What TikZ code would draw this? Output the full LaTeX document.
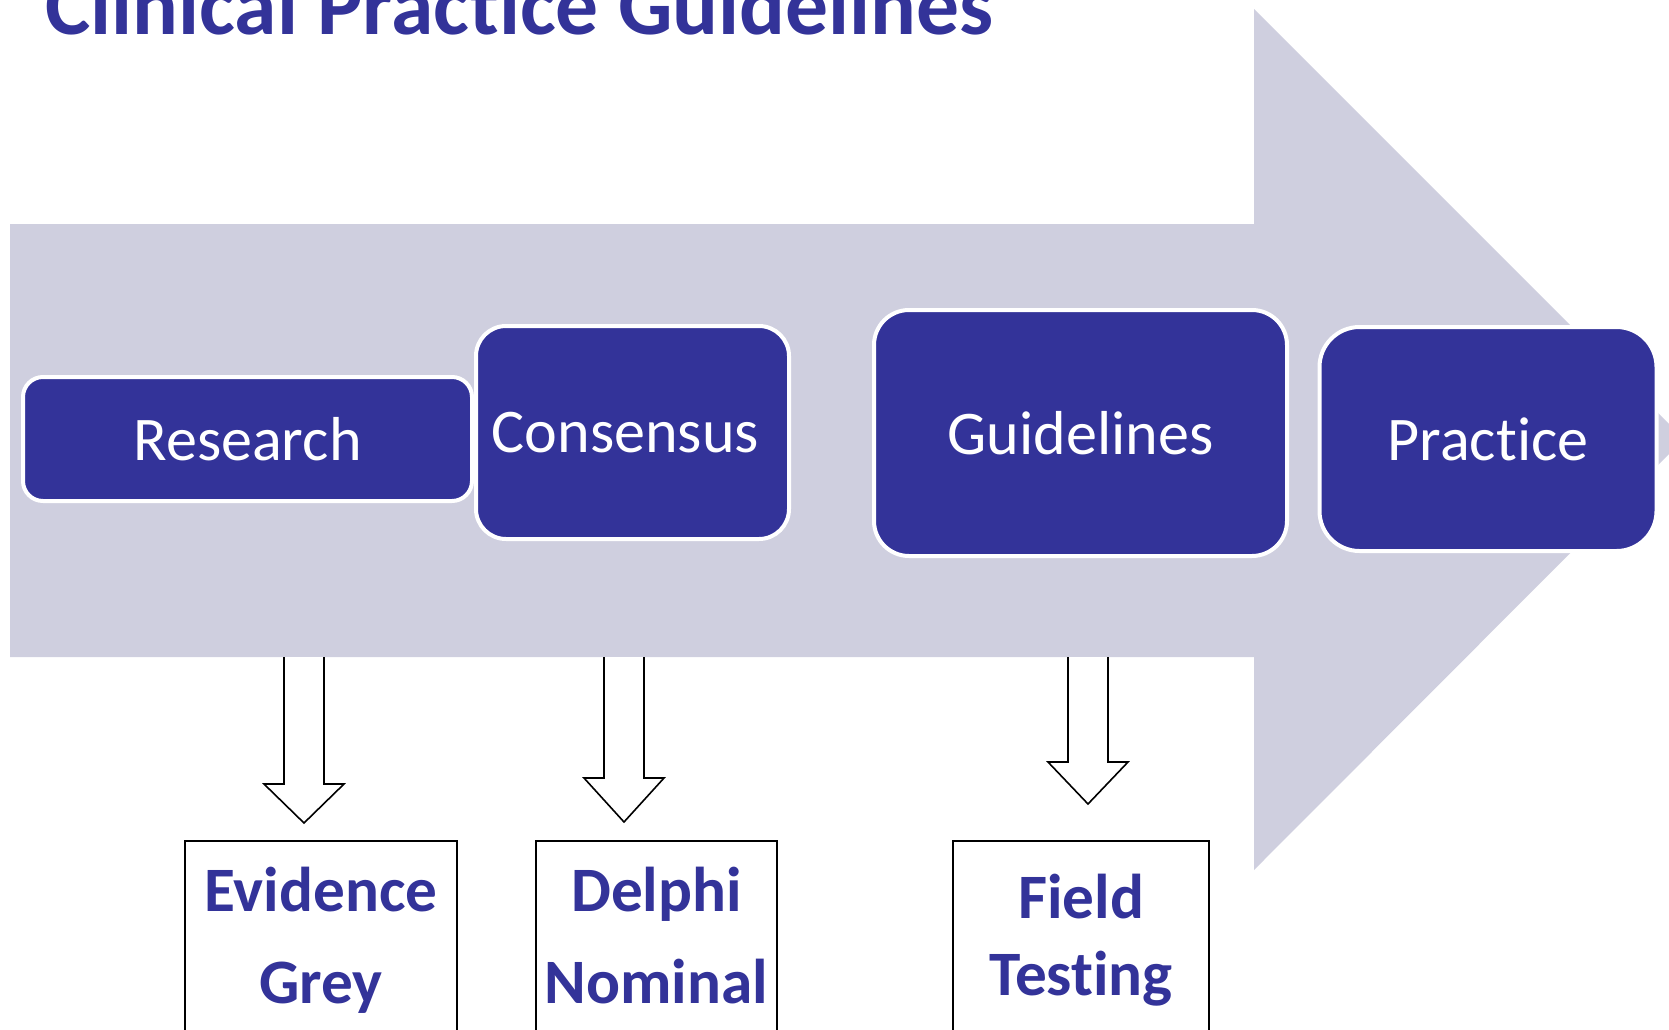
\documentclass[tikz,border=0pt]{standalone}
\usepackage{fontspec}
\setmainfont[Ligatures=NoCommon]{Carlito}
\definecolor{navy}{RGB}{51,51,153}
\definecolor{band}{RGB}{207,207,223}
% keeps "t" and "i" as separate glyphs
\newcommand{\ti}{t\kern0pt i}
\begin{document}
\begin{tikzpicture}[x=0.03cm,y=-0.03cm,
  stage/.style={draw=white,line width=4*0.03cm,fill=navy,text=white,inner sep=0pt,
    font=\fontsize{53pt}{60pt}\selectfont},
  outbox/.style={draw=black,line width=2*0.03cm,fill=white,inner sep=0pt},
  outtext/.style={text=navy,inner sep=0pt,anchor=base,font=\bfseries\fontsize{54pt}{60pt}\selectfont},
  blockarrow/.style={draw=black,line width=1.6*0.03cm,fill=white,line join=miter}]
\useasboundingbox (0,0) rectangle (1669,1029);
\clip (0,0) rectangle (1669,1029);

% title
\node[anchor=base west,inner sep=0pt,text=navy,font=\bfseries\fontsize{73pt}{80pt}\selectfont]
  (title) at (45,34) {Clinical Prac\ti ce Guidelines};

% broad process arrow
\fill[band] (10,224) -- (1254,224) -- (1254,9) -- (1684,439) -- (1254,870)
  -- (1254,657) -- (10,657) -- cycle;

% process stages
\node[stage,rounded corners=20*0.03cm,minimum width=449*0.03cm,minimum height=124*0.03cm]
  (research) at (247.5,439) {Research};
\node[stage,rounded corners=30*0.03cm,minimum width=313*0.03cm,minimum height=213*0.03cm]
  (consensus) at (632.5,432.5) {Consensus\kern0.42cm};
\node[stage,rounded corners=35*0.03cm,minimum width=413*0.03cm,minimum height=246*0.03cm]
  (guidelines) at (1080.5,433) {Guidelines};
\node[stage,rounded corners=40*0.03cm,minimum width=337*0.03cm,minimum height=224*0.03cm]
  (practice) at (1488,439) {Prac\ti ce};

% method boxes (running past the lower edge)
\node[outbox,minimum width=272*0.03cm,minimum height=200*0.03cm,anchor=north west]
  (evidence) at (184,840) {};
\node[outbox,minimum width=241*0.03cm,minimum height=200*0.03cm,anchor=north west]
  (delphi) at (535,840) {};
\node[outbox,minimum width=256*0.03cm,minimum height=200*0.03cm,anchor=north west]
  (field) at (952,840) {};

\node[outtext] (ev1) at (evidence.north |- 0,911) {Evidence};
\node[outtext] (ev2) at (evidence.north |- 0,1003) {Grey};
\node[outtext] (de1) at (delphi.north |- 0,911) {Delphi};
\node[outtext] (de2) at (delphi.north |- 0,1003) {Nominal};
\node[outtext] (fi1) at (field.north |- 0,918) {Field};
\node[outtext] (fi2) at (field.north |- 0,995) {Tes\ti ng};

% hollow block arrows from the process arrow down to the method boxes
\newcommand{\downblock}[4]{% centre x, head y, tip y, name
  \coordinate (#4) at (#1,#3);
  \draw[blockarrow] (#1-20,657) -- (#1-20,#2) -- (#1-40,#2) -- (#4)
    -- (#1+40,#2) -- (#1+20,#2) -- (#1+20,657);}
\downblock{304}{784}{823}{tipA}
\downblock{624}{778}{822}{tipB}
\downblock{1088}{762}{804}{tipC}
\end{tikzpicture}
\end{document}
